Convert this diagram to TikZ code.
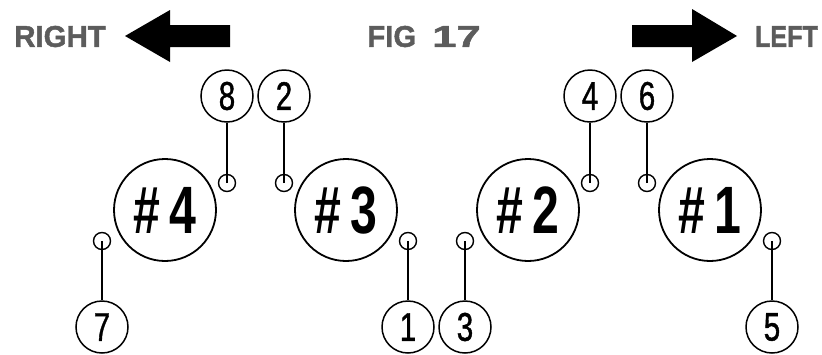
\documentclass[tikz,border=0pt]{standalone}
\usepackage{fontspec}
\setmainfont{Liberation Sans}
\definecolor{hdrgray}{RGB}{92,92,92}
\tikzset{
  big/.style={circle,draw,line width=1.8pt,minimum size=102pt,inner sep=0pt,
    font=\fontsize{67}{67}\selectfont\bfseries},
  num/.style={circle,draw,line width=1.5pt,minimum size=52pt,inner sep=0pt,
    font=\fontsize{40}{40}\selectfont},
  small/.style={circle,draw,line width=1.4pt,minimum size=17pt,inner sep=0pt},
  stem/.style={line width=1.4pt},
  hdr/.style={inner sep=0pt,text=hdrgray,font=\fontsize{30}{30}\selectfont\bfseries\addfontfeature{FakeBold=1.5}},
  arrowfill/.style={fill=black,draw=none}
}
\newcommand{\bigtxt}[1]{\scalebox{0.72}[1]{\#\kern14pt #1}}
\newcommand{\numtxt}[1]{\scalebox{0.74}[1]{\addfontfeature{FakeBold=1.2}#1}}
\begin{document}
\begin{tikzpicture}[x=1pt,y=-1pt]
\useasboundingbox (0,0) rectangle (822,354);
% header
\node[hdr] (right) at (60,36.5) {\scalebox{0.98}[1]{RIGHT}};
\node[hdr] (left) at (786.5,36.5) {\scalebox{0.84}[1]{LEFT}};
\node[hdr] (fig) at (424,36.5) {\scalebox{0.98}[1]{FIG}\hspace{16pt}\scalebox{1.45}[1]{17}};
\fill[arrowfill] (230,25) -- (170,25) -- (170,10) -- (125,36) -- (170,62) -- (170,47) -- (230,47) -- cycle;
\fill[arrowfill] (632,25) -- (692,25) -- (692,9) -- (737,36) -- (692,62) -- (692,47) -- (632,47) -- cycle;
% cylinders
\node[big] (c4) at (165,210) {\bigtxt{4}};
\node[big] (c3) at (346,210) {\bigtxt{3}};
\node[big] (c2) at (528,210) {\bigtxt{2}};
\node[big] (c1) at (710,210) {\bigtxt{1}};
% small plugs
\node[small] (s8) at (227,183) {};
\node[small] (s2) at (284,183) {};
\node[small] (s4) at (590,183) {};
\node[small] (s6) at (647,183) {};
\node[small] (s7) at (102,241) {};
\node[small] (s1) at (408,241) {};
\node[small] (s3) at (465,241) {};
\node[small] (s5) at (772,241) {};
% number circles
\node[num] (n8) at (227,96) {\numtxt{8}};
\node[num] (n2) at (284,96) {\numtxt{2}};
\node[num] (n4) at (590,96) {\numtxt{4}};
\node[num] (n6) at (647,96) {\numtxt{6}};
\node[num] (n7) at (102,327) {\numtxt{7}};
\node[num] (n1) at (408,327) {\numtxt{1}};
\node[num] (n3) at (465,327) {\numtxt{3}};
\node[num] (n5) at (772,327) {\numtxt{5}};
% stems
\foreach \k in {8,2,4,6,7,1,3,5} {
  \draw[stem] (s\k.center) -- (n\k);
}
\end{tikzpicture}
\end{document}
